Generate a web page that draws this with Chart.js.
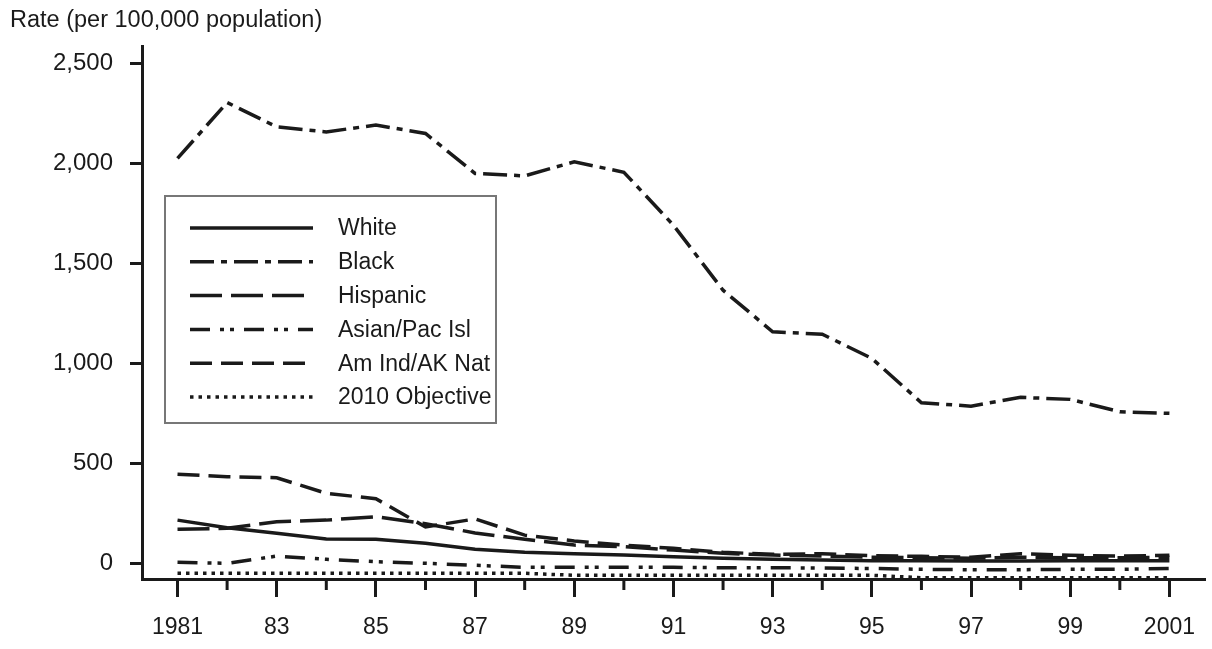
<!DOCTYPE html>
<html>
<head>
<meta charset="utf-8">
<script src="https://cdn.jsdelivr.net/npm/chart.js@4.4.1/dist/chart.umd.min.js"></script>
<style>
  html, body { margin: 0; padding: 0; background: #fff; }
  canvas { display: block; }
</style>
</head>
<body>
<canvas id="chart" width="1212" height="649"></canvas>
<script>
// rates per 100,000 population
const years = [1981,1982,1983,1984,1985,1986,1987,1988,1989,1990,1991,1992,1993,1994,1995,1996,1997,1998,1999,2000,2001];
const white     = [216,178,150,122,120,100,70,55,48,41,33,25,20,16,13,13,12,12,13,13,13];
const black     = [2025,2305,2183,2158,2192,2150,1950,1938,2008,1956,1691,1366,1158,1146,1025,803,786,830,820,758,750];
const hispanic  = [170,175,208,216,233,198,152,120,91,83,66,50,41,36,30,28,25,30,28,28,30];
const asianPac  = [5,0,36,20,8,0,-10,-20,-20,-20,-20,-22,-22,-24,-26,-30,-32,-32,-30,-30,-26];
const amIndAk   = [446,433,428,350,323,182,222,141,112,91,75,55,45,48,38,35,30,48,40,36,40];
const objective = [-50,-50,-50,-50,-50,-50,-50,-50,-60,-60,-60,-60,-60,-60,-60,-72,-72,-72,-72,-72,-72];

const seriesNames = ['White','Black','Hispanic','Asian/Pac Isl','Am Ind/AK Nat','2010 Objective'];
const yTicks = [0,500,1000,1500,2000,2500];
const labelYears = [1981,1983,1985,1987,1989,1991,1993,1995,1997,1999,2001];
const minorYears = [1982,1984,1986,1988,1990,1992,1994,1996,1998,2000];

const ink = '#1a1a1a';
const textFont = "'Liberation Sans', Arial, sans-serif";

const dashes = [[], [24,7,6,7], [32,9], [20,10,4,6,4,10], [22,9], [3.5,5]];
const values = [white, black, hispanic, asianPac, amIndAk, objective];

const datasets = seriesNames.map((name, i) => ({
  label: name,
  data: values[i],
  borderColor: ink,
  borderWidth: 3.5,
  borderDash: dashes[i],
  borderCapStyle: 'butt',
  pointRadius: 0,
  tension: 0,
  fill: false
}));

// short ticks for the even years
const minorTicks = {
  id: 'minorTicks',
  afterDraw(chart) {
    const { ctx, chartArea, scales: { x } } = chart;
    ctx.save();
    ctx.strokeStyle = ink;
    ctx.lineWidth = 3;
    minorYears.forEach(yr => {
      const px = x.getPixelForValue(yr);
      ctx.beginPath();
      ctx.moveTo(px, chartArea.bottom);
      ctx.lineTo(px, chartArea.bottom + 11);
      ctx.stroke();
    });
    ctx.restore();
  }
};

// boxed legend inside the plot, as in the original
const boxLegend = {
  id: 'boxLegend',
  afterDraw(chart) {
    const { ctx } = chart;
    const box = { x: 165, y: 196, w: 331, h: 227 };
    ctx.save();
    ctx.fillStyle = '#fff';
    ctx.fillRect(box.x, box.y, box.w, box.h);
    ctx.strokeStyle = '#777';
    ctx.lineWidth = 2;
    ctx.strokeRect(box.x, box.y, box.w, box.h);
    ctx.font = '23px ' + textFont;
    ctx.textBaseline = 'middle';
    ctx.fillStyle = ink;
    chart.data.datasets.forEach((ds, i) => {
      const y = 228 + i * 33.8;
      ctx.strokeStyle = ink;
      ctx.lineWidth = ds.borderWidth;
      ctx.setLineDash(ds.borderDash);
      ctx.beginPath();
      ctx.moveTo(190, y);
      ctx.lineTo(313, y);
      ctx.stroke();
      ctx.setLineDash([]);
      ctx.fillText(ds.label, 338, y + 1);
    });
    ctx.restore();
  }
};

new Chart(document.getElementById('chart'), {
  type: 'line',
  data: { labels: years, datasets },
  options: {
    responsive: false,
    animation: false,
    layout: { padding: { left: 10, right: 0, top: 0, bottom: 0 } },
    plugins: {
      legend: { display: false },
      tooltip: { enabled: false },
      title: {
        display: true,
        text: 'Rate (per 100,000 population)',
        align: 'start',
        color: ink,
        font: { family: textFont, size: 23.5, weight: 'normal' },
        padding: { top: 6, bottom: 12 }
      }
    },
    scales: {
      x: {
        type: 'linear',
        min: 1980.284,
        max: 2001.73,
        afterBuildTicks: s => { s.ticks = labelYears.map(v => ({ value: v })); },
        afterFit: s => { s.height = 70; },
        grid: { drawOnChartArea: false, drawTicks: true, tickLength: 18, tickWidth: 3, tickColor: ink },
        border: { display: true, color: ink, width: 3 },
        ticks: {
          color: ink,
          font: { family: textFont, size: 23 },
          padding: 17,
          maxRotation: 0,
          autoSkip: false,
          callback: v => (v === 1981 || v === 2001) ? String(v) : String(v).slice(2)
        }
      },
      y: {
        min: -78.5,
        max: 2586.5,
        afterBuildTicks: s => { s.ticks = yTicks.map(v => ({ value: v })); },
        afterFit: s => { s.width = 132; },
        grid: { drawOnChartArea: false, drawTicks: true, tickLength: 12, tickWidth: 3, tickColor: ink },
        border: { display: true, color: ink, width: 3 },
        ticks: {
          color: ink,
          font: { family: textFont, size: 24 },
          padding: 17,
          callback: v => v.toLocaleString('en-US')
        }
      }
    }
  },
  plugins: [minorTicks, boxLegend]
});
</script>
</body>
</html>
